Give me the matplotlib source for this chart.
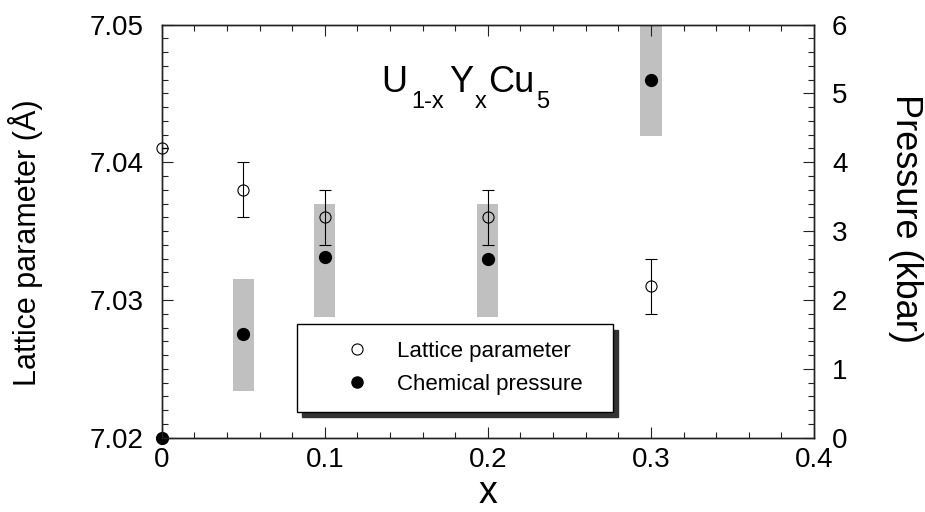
import matplotlib
matplotlib.use("Agg")
import matplotlib.pyplot as plt
from matplotlib.ticker import MultipleLocator, FormatStrFormatter

plt.rcParams['font.family'] = ['Liberation Sans', 'DejaVu Sans']

# ---- data ----
x_vals = [0.0, 0.05, 0.1, 0.2, 0.3]
lattice = [7.041, 7.038, 7.036, 7.036, 7.031]
lattice_err = [0.0, 0.002, 0.002, 0.002, 0.002]
x_press = [0.0, 0.05, 0.1, 0.2, 0.3]
pressure = [0.0, 1.50, 2.63, 2.59, 5.19]
x_band = [0.05, 0.1, 0.2, 0.3]
band_low = [0.68, 1.76, 1.76, 4.38]
band_high = [2.31, 3.39, 3.39, 6.00]
band_width = 0.013

fig = plt.figure(figsize=(9.25, 5.12), dpi=100)
ax = fig.add_axes([0.1748, 0.1451, 0.7052, 0.8070])
ax2 = ax.twinx()

# bands + filled points on pressure axis
heights = [h - l for h, l in zip(band_high, band_low)]
ax2.bar(x_band, heights, bottom=band_low, width=band_width,
        color='#c0c0c0', edgecolor='none', zorder=1)
fp, = ax2.plot(x_press, pressure, 'o', color='black', ms=8.5, ls='none',
               zorder=3, clip_on=False, label='Chemical pressure')

# open circles on lattice axis (drawn above)
ax.set_zorder(ax2.get_zorder() + 1)
ax.patch.set_visible(False)
ax.errorbar(x_vals, lattice, yerr=lattice_err, fmt='none', ecolor='black',
            elinewidth=0.8, capsize=4, capthick=0.8, zorder=3)
op, = ax.plot(x_vals, lattice, 'o', mfc='none', mec='black', mew=0.8, ms=8,
              ls='none', zorder=4, clip_on=False, label='Lattice parameter')

ax.set_xlim(0, 0.4)
ax.set_ylim(7.02, 7.05)
ax2.set_ylim(0, 6)

ax.xaxis.set_major_locator(MultipleLocator(0.1))
ax.xaxis.set_minor_locator(MultipleLocator(0.02))
ax.yaxis.set_major_locator(MultipleLocator(0.01))
ax.yaxis.set_minor_locator(MultipleLocator(0.001))
ax2.yaxis.set_major_locator(MultipleLocator(1))
ax2.yaxis.set_minor_locator(MultipleLocator(0.2))

def xfmt(v, pos):
    return '0' if abs(v) < 1e-9 else ('%.1f' % v)
ax.xaxis.set_major_formatter(plt.FuncFormatter(xfmt))
ax.yaxis.set_major_formatter(FormatStrFormatter('%.2f'))
ax2.yaxis.set_major_formatter(FormatStrFormatter('%d'))

for a in (ax, ax2):
    for s in a.spines.values():
        s.set_linewidth(1.0)
        s.set_color('#222222')

ax.tick_params(axis='x', which='both', direction='in', top=True, bottom=True,
               labelsize=20, pad=7, color='#222222')
ax.tick_params(axis='y', which='both', direction='in', left=True, right=False,
               labelsize=20, pad=13, color='#222222')
ax2.tick_params(axis='y', which='both', direction='in', right=True, left=False,
                labelsize=20, pad=13, color='#222222')
for a in (ax, ax2):
    a.tick_params(which='major', length=8, width=0.8)
    a.tick_params(which='minor', length=4, width=0.8)

# axis labels
fig.text(26/925, 1-242.5/512, 'Lattice parameter (Å)', rotation=90,
         fontsize=22, ha='center', va='center')
fig.text(906/925, 1-219/512, 'Pressure (kbar)', rotation=270,
         fontsize=26, ha='center', va='center')
fig.text(488/925, 1-493/512, 'x', fontsize=27, ha='center', va='center')

# title formula with subscripts (chained so pieces do not collide)
pieces = [("U", 381.7, 91.7, 26), ("1-x", 411.7, 108.3, 17),
          ("Y", 449, 91.7, 26), ("x", 470, 108.3, 17),
          ("Cu", 488, 91.7, 26), ("5", 535, 108.3, 17)]
renderer = fig.canvas.get_renderer()
H = 512.0
prev_x1 = None
for t, px, py, fs in pieces:
    if prev_x1 is not None:
        px = max(px, prev_x1 + 1.5)
    txt = fig.text(px/925, 1-py/H, t, fontsize=fs, ha='left', va='baseline')
    bb = txt.get_window_extent(renderer)
    prev_x1 = bb.x1

# legend
leg = ax.legend([op, fp], ['Lattice parameter', 'Chemical pressure'],
                loc='upper left', bbox_to_anchor=(0.2074, 0.0549, 0.4849, 0.2195),
                mode='expand', borderaxespad=0, fontsize=16, frameon=True,
                fancybox=False, framealpha=1, edgecolor='black',
                borderpad=0.75, handlelength=3.9, handletextpad=-0.15,
                labelspacing=0.55, numpoints=1,
                shadow={'color': '#333333', 'alpha': 1, 'ox': 3.5, 'oy': -4})
leg.get_frame().set_linewidth(1.0)
for h in leg.legend_handles:
    h.set_markersize(8)

fig.savefig('out.png', dpi=100)
